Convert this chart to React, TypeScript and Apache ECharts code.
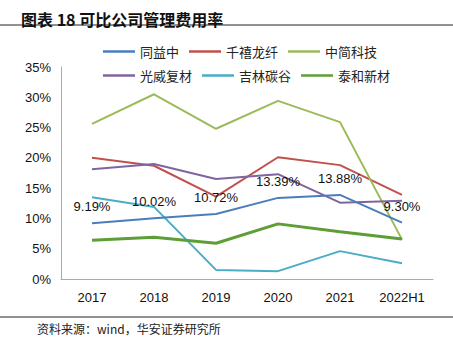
import React, { useEffect, useRef } from "react";
import * as echarts from "echarts";

const categories = ["2017", "2018", "2019", "2020", "2021", "2022H1"];
const tongyizhong = [9.19, 10.02, 10.72, 13.39, 13.88, 9.3];
const qianxilongxian = [20.0, 18.7, 13.6, 20.1, 18.8, 13.9];
const zhongjiankeji = [25.6, 30.5, 24.8, 29.4, 25.9, 6.5];
const guangweifucai = [18.1, 19.0, 16.5, 17.3, 12.6, 12.9];
const jilintangu = [13.5, 11.9, 1.5, 1.3, 4.6, 2.6];
const taihexincai = [6.4, 6.9, 5.9, 9.1, 7.8, 6.6];
const yTicks = [0, 5, 10, 15, 20, 25, 30, 35];

const seriesNames = ["同益中", "千禧龙纤", "中简科技", "光威复材", "吉林碳谷", "泰和新材"];
const seriesData = [tongyizhong, qianxilongxian, zhongjiankeji, guangweifucai, jilintangu, taihexincai];
const colors = ["#4a7ebb", "#c0504d", "#9bbb59", "#8064a2", "#4bacc6", "#5e9e36"];
const widths = [2, 2, 2, 2, 2, 3];

export default function App() {
  const ref = useRef<HTMLDivElement>(null);
  useEffect(() => {
    const chart = echarts.init(ref.current!, undefined, { renderer: "svg" });
    const cjk = "'Noto Sans CJK SC', sans-serif";
    const legendCommon = {
      itemWidth: 32,
      itemHeight: 14,
      itemGap: 10,
      icon: "path://M0,6 L32,6 L32,8.5 L0,8.5 Z",
      textStyle: { fontFamily: cjk, fontSize: 13, color: "#222" },
    };
    chart.setOption({
      animation: false,
      color: colors,
      title: {
        text: "图表 18 可比公司管理费用率",
        left: 16,
        top: 6,
        textStyle: { fontFamily: cjk, fontSize: 16, fontWeight: "bold", color: "#111" },
      },
      legend: [
        { ...legendCommon, data: seriesNames.slice(0, 3), left: 98, top: 40 },
        { ...legendCommon, data: seriesNames.slice(3, 6), left: 98, top: 64 },
      ],
      grid: { left: 61, right: 20, top: 67, bottom: 73 },
      xAxis: {
        type: "category",
        data: categories,
        boundaryGap: true,
        axisLine: { lineStyle: { color: "#aaa" } },
        axisTick: { show: false },
        axisLabel: { fontFamily: "'Liberation Sans', Arial", fontSize: 13, color: "#111", margin: 12 },
      },
      yAxis: {
        type: "value",
        min: yTicks[0],
        max: yTicks[yTicks.length - 1],
        interval: 5,
        splitLine: { show: false },
        axisLine: { show: true, lineStyle: { color: "#aaa" } },
        axisTick: { show: false },
        axisLabel: {
          formatter: "{value}%",
          fontFamily: "'Liberation Sans', Arial",
          fontSize: 13,
          color: "#111",
          margin: 10,
        },
      },
      series: seriesNames.map((name, i) => ({
        name,
        type: "line",
        data: seriesData[i],
        symbol: "circle",
        symbolSize: 0.01,
        showSymbol: i === 0,
        lineStyle: { width: widths[i], color: colors[i] },
        itemStyle: { color: colors[i] },
        z: i === 0 ? 10 : 2,
        label:
          i === 0
            ? {
                show: true,
                position: "top",
                distance: 10,
                formatter: (p: any) => Number(p.value).toFixed(2) + "%",
                fontFamily: "'Liberation Sans', Arial",
                fontSize: 13,
                color: "#111",
              }
            : { show: false },
      })),
      graphic: [
        { type: "line", shape: { x1: 0, y1: 25, x2: 453, y2: 25 }, style: { stroke: "#222", lineWidth: 1 } },
        { type: "line", shape: { x1: 0, y1: 317, x2: 453, y2: 317 }, style: { stroke: "#222", lineWidth: 1 } },
        {
          type: "text",
          left: 37,
          top: 322,
          style: { text: "资料来源：wind，华安证券研究所", font: "12px 'Noto Sans CJK SC', sans-serif", fill: "#222" },
        },
      ],
    });
    return () => chart.dispose();
  }, []);
  return <div ref={ref} style={{ width: 453, height: 352, position: "absolute", left: 0, top: 0 }} />;
}
